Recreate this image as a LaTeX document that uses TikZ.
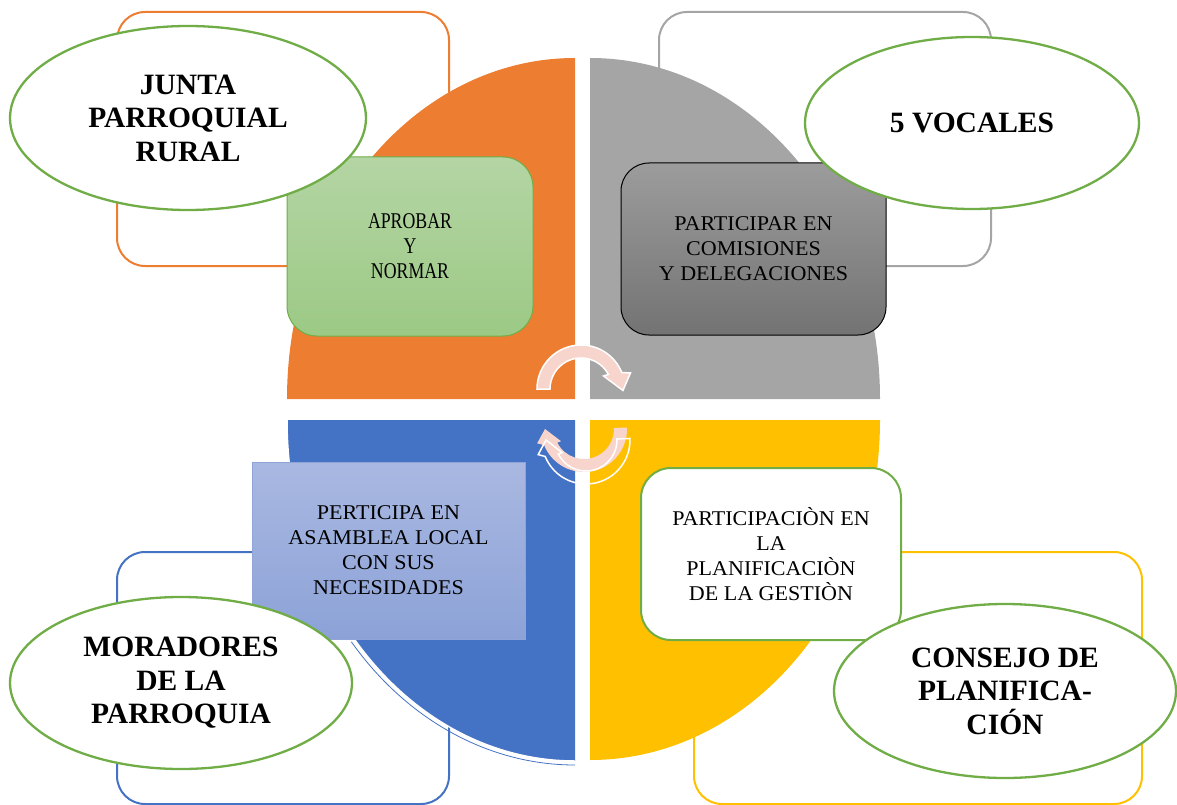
\documentclass[tikz,border=0pt]{standalone}
\usepackage{fontspec}
\setmainfont{Liberation Serif}
\newfontfamily\boxfont[FakeStretch=1.05]{Liberation Serif}
\newfontfamily\narrowfont[FakeStretch=0.79]{Liberation Serif}
\usetikzlibrary{shapes.geometric,calc}
\definecolor{qorange}{HTML}{ED7D31}
\definecolor{qgray}{HTML}{A5A5A5}
\definecolor{qblue}{HTML}{4472C4}
\definecolor{qyellow}{HTML}{FFC000}
\definecolor{qgreen}{HTML}{70AD47}
\definecolor{arrowpink}{HTML}{F8D5CC}
\definecolor{greentop}{HTML}{B4D5A4}
\definecolor{greenbot}{HTML}{9CC985}
\definecolor{darktop}{HTML}{9C9C9C}
\definecolor{darkbot}{HTML}{737373}
\definecolor{bluetop}{HTML}{A9B8E1}
\definecolor{bluebot}{HTML}{8CA2D7}
\definecolor{blueedge}{HTML}{8FA5D8}
\begin{document}
\begin{tikzpicture}[x=1pt,y=-1pt,
  frame/.style={line width=2pt, rounded corners=28pt},
  oval/.style={ellipse, draw=qgreen, line width=2.3pt, fill=white, inner sep=0pt,
    align=center, font=\fontsize{29.5}{33.5}\selectfont\bfseries},
  info/.style={rectangle, align=center, inner sep=0pt,
    font=\boxfont\fontsize{21}{25}\selectfont},
  cyc/.style={fill=arrowpink, draw=white, line width=1.5pt},
  cycshadow/.style={draw=white, line width=1.5pt}]

\useasboundingbox (0,0) rectangle (1177,805);

% background frames
\draw[frame, draw=qorange] (117,12) rectangle (449,266);
\draw[frame, draw=qgray]   (659,12) rectangle (991,266);
\draw[frame, draw=qblue]   (117,552) rectangle (449,804);
\draw[frame, draw=qyellow] (694,552) rectangle (1142,804);

% quadrants
\fill[qorange] (575,399) -- (287,399) arc[start angle=180, end angle=270, x radius=288, y radius=341] -- cycle;
\fill[qgray] (590,399) -- (590,58) arc[start angle=270, end angle=360, x radius=290, y radius=341] -- cycle;
\fill[qblue] (575,420) -- (287,420) arc[start angle=180, end angle=90, x radius=288, y radius=341] -- cycle;
\draw[white, line width=1.5pt] (287,420) arc[start angle=180, end angle=90, x radius=288, y radius=341];
\draw[qblue, line width=0.8pt] ($(575,420)+(140:292 and 345)$) arc[start angle=140, end angle=90, x radius=292, y radius=345];
\fill[qyellow] (590,420) -- (880,420) arc[start angle=0, end angle=90, x radius=290, y radius=340] -- cycle;

% content boxes
\node[info, rounded corners=30pt, minimum width=246pt, minimum height=179pt,
  draw=qgreen, line width=1pt, top color=greentop, bottom color=greenbot,
  font=\narrowfont\fontsize{22.5}{25}\selectfont]
  (aprobar) at (410,246.5) {APROBAR\\Y\\NORMAR};
\node[info, rounded corners=28pt, minimum width=265pt, minimum height=172pt,
  draw=black, line width=1pt, top color=darktop, bottom color=darkbot]
  (participar) at (753.5,249) {PARTICIPAR EN\\COMISIONES\\Y DELEGACIONES};
\node[info, minimum width=273pt, minimum height=177pt,
  draw=blueedge, line width=1pt, top color=bluetop, bottom color=bluebot]
  (perticipa) at (388.5,550.5) {PERTICIPA EN\\ASAMBLEA LOCAL\\CON SUS\\NECESIDADES};
\node[info, rounded corners=30pt, minimum width=260pt, minimum height=172pt,
  draw=qgreen, line width=2pt, fill=white]
  (planif) at (771,554) {PARTICIPACIÒN EN\\LA\\PLANIFICACIÒN\\DE LA GESTIÒN};

% ellipses
\node[oval, minimum width=356pt, minimum height=184pt] (junta) at (188,118) {JUNTA\\PARROQUIAL\\RURAL};
\node[oval, minimum width=334pt, minimum height=172pt] (vocales) at (972,123) {5 VOCALES};
\node[oval, minimum width=342pt, minimum height=172pt] (moradores) at (181,683) {MORADORES\\DE LA\\PARROQUIA};
\node[oval, minimum width=342pt, minimum height=174pt] (consejo) at (1005,691) {CONSEJO DE\\PLANIFICA-\\CIÓN};

% circular arrows
\coordinate (ca) at (581,389);
\coordinate (cb) at (584,429);
\coordinate (cbs) at (586,440);
\path[cyc] ($(ca)+(180:44)$) arc[start angle=180, end angle=338, radius=44]
  -- ($(ca)+(342:52)$) -- ($(ca)+(2:42)$) -- ($(ca)+(330:26)$)
  -- ($(ca)+(332:31)$) arc[start angle=332, end angle=180, radius=31] -- cycle;
\path[fill=arrowpink] ($(cb)+(-2:43)$) arc[start angle=-2, end angle=158, radius=43]
  -- ($(cb)+(163:49)$) -- ($(cb)+(180:39)$) -- ($(cb)+(152:26)$)
  -- ($(cb)+(153:30)$) arc[start angle=153, end angle=-2, radius=30] -- cycle;
\path[cycshadow] ($(cbs)+(-2:44)$) arc[start angle=-2, end angle=158, radius=44]
  -- ($(cbs)+(163:50)$) -- ($(cbs)+(180:40)$) -- ($(cbs)+(152:27)$)
  -- ($(cbs)+(153:31)$) arc[start angle=153, end angle=-2, radius=31] -- cycle;
\end{tikzpicture}
\end{document}
